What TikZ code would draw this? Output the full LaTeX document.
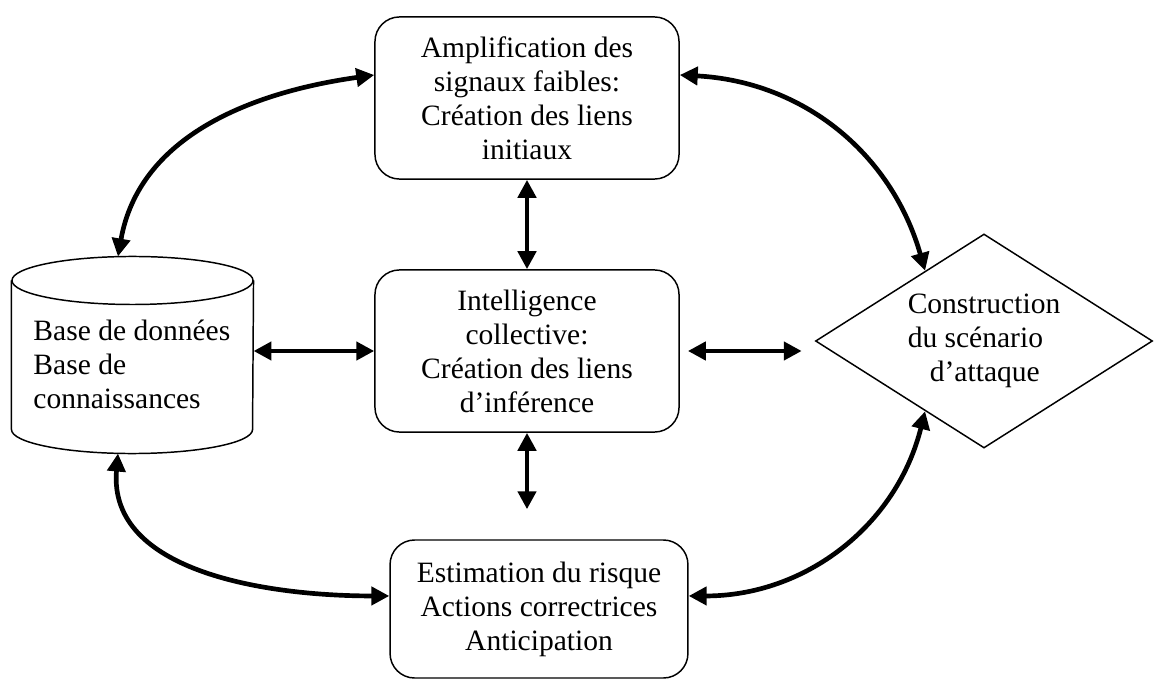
\documentclass[tikz,border=0pt]{standalone}
\usepackage{fontspec}
\setmainfont{Liberation Serif}
\usetikzlibrary{shapes.geometric, arrows.meta}

\begin{document}
\begin{tikzpicture}[
  x=0.4065pt, y=0.4065pt,
  box/.style={draw, line width=0.6pt, rounded corners=10pt,
              minimum width=123.6pt, minimum height=65.9pt,
              font=\fontsize{12}{13.8}\selectfont, align=center},
  losange/.style={draw, diamond, aspect=1.575, inner sep=1pt, line width=0.6pt,
              minimum width=137pt, minimum height=87pt,
              font=\fontsize{12}{13.8}\selectfont, align=left},
  txt/.style={font=\fontsize{12}{13.8}\selectfont, align=left, inner sep=0pt},
  arr/.style={{Triangle[length=7.3pt,width=7.3pt]}-{Triangle[length=7.3pt,width=7.3pt]},
              line width=1.9pt}
]
\useasboundingbox (0,0) rectangle (1154,681);

\node[box] (amp) at (527,583) {Amplification des\\signaux faibles:\\Création des liens\\initiaux};
\node[box] (intel) at (527,330) {Intelligence\\collective:\\Création des liens\\d’inférence};
\node[box, minimum width=121.1pt, minimum height=56.1pt] (risk) at (539,72)
  {Estimation du risque\\Actions correctrices\\Anticipation};
\node[losange] (scen) at (984,340) {Construction\\du scénario\\\hspace*{9pt}d’attaque};

% cylindre de la base
\node[minimum width=98pt, minimum height=79.7pt, inner sep=0pt] (db) at (132.5,326) {};
\draw[line width=0.6pt] ([yshift=-9.76pt]db.north) ellipse [x radius=49pt, y radius=9.76pt];
\draw[line width=0.6pt] ([yshift=-9.76pt]db.north west) -- ([yshift=9.76pt]db.south west)
  arc[start angle=180, end angle=360, x radius=49pt, y radius=9.76pt]
  -- ([yshift=-9.76pt]db.north east);
\node[txt, anchor=west] (dbtxt) at (33,317) {Base de données\\Base de\\connaissances};

\draw[arr] ([yshift=9.35pt]amp.west) to[out=188, in=80] ([xshift=-5.9pt]db.north);
\draw[arr] ([yshift=9.35pt]amp.east) to[out=-3, in=106] (scen.130);
\draw[arr] (amp) -- (intel);
\draw[arr] (db.east |- intel.west) -- (intel.west);
\draw[arr, shorten <=3.3pt, shorten >=5.3pt] (intel.east) -- (intel.east -| scen.west);
\draw[arr, shorten >=12.2pt] (intel.south) -- (intel.south |- risk.north);
\draw[arr] ([xshift=-5.9pt]db.south) to[out=-95, in=180] ([yshift=5.3pt]risk.west);
\draw[arr] ([yshift=5.3pt]risk.east) to[out=0, in=256] (scen.230);
\end{tikzpicture}
\end{document}
